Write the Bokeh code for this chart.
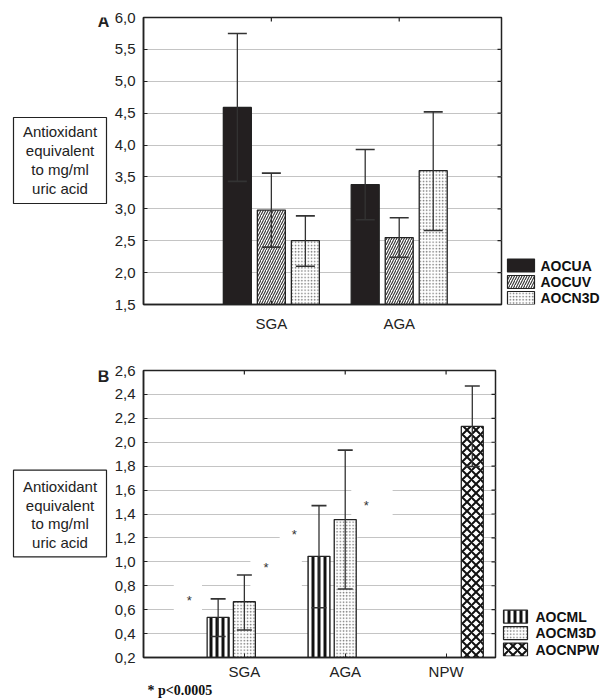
import math
from bokeh.plotting import figure
from bokeh.models import (Range1d, FixedTicker, Whisker, ColumnDataSource, TeeHead)
from bokeh.layouts import column, row
from bokeh.embed import file_html
from bokeh.resources import INLINE
from bokeh.core.properties import value

FONT = "Liberation Sans"
SERIF = "Liberation Serif"

# ---------------- Panel A data ----------------
cats_a = ["SGA", "AGA"]
aocua = [4.59, 3.38]
aocua_lo = [3.43, 2.83]
aocua_hi = [5.75, 3.93]
aocuv = [2.98, 2.55]
aocuv_lo = [2.40, 2.24]
aocuv_hi = [3.56, 2.86]
aocn3d = [2.50, 3.60]
aocn3d_lo = [2.10, 2.66]
aocn3d_hi = [2.89, 4.52]
yticks_a = [1.5, 2.0, 2.5, 3.0, 3.5, 4.0, 4.5, 5.0, 5.5, 6.0]
ylabels_a = ["1,5", "2,0", "2,5", "3,0", "3,5", "4,0", "4,5", "5,0", "5,5", "6,0"]
legend_a = ["AOCUA", "AOCUV", "AOCN3D"]

# ---------------- Panel B data ----------------
cats_b = ["SGA", "AGA", "NPW"]
aocml_cats = ["SGA", "AGA"]
aocml = [0.535, 1.046]
aocml_lo = [0.376, 0.616]
aocml_hi = [0.69, 1.47]
aocm3d_cats = ["SGA", "AGA"]
aocm3d = [0.666, 1.353]
aocm3d_lo = [0.43, 0.773]
aocm3d_hi = [0.89, 1.934]
aocnpw_cats = ["NPW"]
aocnpw = [2.132]
aocnpw_lo = [1.797]
aocnpw_hi = [2.47]
yticks_b = [0.2, 0.4, 0.6, 0.8, 1.0, 1.2, 1.4, 1.6, 1.8, 2.0, 2.2, 2.4, 2.6]
ylabels_b = ["0,2", "0,4", "0,6", "0,8", "1,0", "1,2", "1,4", "1,6", "1,8",
             "2,0", "2,2", "2,4", "2,6"]
legend_b = ["AOCML", "AOCM3D", "AOCNPW"]
# significance stars (x in axis units, y in data units)
star_x = [0.455, 1.215, 1.495, 2.21]
star_y = [0.70, 0.976, 1.253, 1.496]
footnote = "*  p<0.0005"
ylab_lines = ["Antioxidant", "equivalent", "to mg/ml", "uric acid"]

EDGE = "#222222"
H_A = 344
TOP_B = 26
BOT_B = 24
H_B = TOP_B + 287 + BOT_B

solid_style = dict(fill_color="#231f20")
diag_style = dict(fill_color="white", hatch_pattern="right_diagonal_line",
                  hatch_color="#333", hatch_scale=5, hatch_weight=1.1)
dot_style = dict(fill_color="white", hatch_pattern="dot", hatch_color="#777",
                 hatch_scale=3.2, hatch_weight=1)
vline_style = dict(fill_color="white", hatch_pattern="vertical_line",
                   hatch_color="#111", hatch_scale=6, hatch_weight=3)
cross_style = dict(fill_color="white", hatch_pattern="diagonal_cross",
                   hatch_color="#111", hatch_scale=9, hatch_weight=2)


def make_fig(x_end, y0, y1, frame_w, top_b, bottom_b, yticks, ylabels, cats,
             xstandoff):
    p = figure(frame_width=frame_w, frame_height=287,
               x_range=Range1d(0, x_end), y_range=Range1d(y0, y1),
               output_backend="svg", toolbar_location=None,
               min_border_left=32, min_border_right=4,
               min_border_top=top_b, min_border_bottom=bottom_b,
               background_fill_color="white", border_fill_color="white")
    p.outline_line_color = EDGE
    p.outline_line_width = 1.5
    cat_pos = [i + 1 for i in range(len(cats))]
    xa = p.xaxis[0]
    xa.ticker = FixedTicker(ticks=cat_pos)
    xa.major_label_overrides = {c: lab for c, lab in zip(cat_pos, cats)}
    xa.major_tick_in = 4
    xa.major_tick_out = 0
    xa.minor_tick_line_color = None
    xa.axis_line_color = EDGE
    xa.axis_line_width = 1.5
    xa.major_tick_line_color = EDGE
    xa.major_label_text_font = FONT
    xa.major_label_text_font_size = "15px"
    xa.major_label_text_color = "#222"
    xa.major_label_standoff = xstandoff
    ya = p.yaxis[0]
    ya.ticker = FixedTicker(ticks=yticks)
    ya.major_label_overrides = {t: l for t, l in zip(yticks, ylabels)}
    ya.major_tick_in = 4
    ya.major_tick_out = 0
    ya.minor_tick_line_color = None
    ya.axis_line_color = EDGE
    ya.axis_line_width = 1.5
    ya.major_tick_line_color = EDGE
    ya.major_label_text_font = FONT
    ya.major_label_text_font_size = "15px"
    ya.major_label_text_color = "#222"
    ya.major_label_standoff = 8
    # inward tick marks on the right and top frame edges
    p.ray(x=[x_end] * len(yticks), y=yticks, length=4, length_units="screen",
          angle=math.pi, line_color=EDGE, line_width=1.2)
    p.ray(x=cat_pos, y=[y1] * len(cat_pos), length=4, length_units="screen",
          angle=-math.pi / 2, line_color=EDGE, line_width=1.2)
    p.xgrid.visible = False
    p.ygrid.ticker = FixedTicker(ticks=yticks)
    p.ygrid.grid_line_color = "#c4c4c4"
    p.ygrid.grid_line_width = 1
    return p


def bars(p, cats, series_cats, vals, lo, hi, offset, width, bottom, cap, style):
    xs = [cats.index(c) + 1 + offset for c in series_cats]
    p.vbar(x=xs, top=vals, bottom=bottom, width=width,
           line_color=EDGE, line_width=1.3, **style)
    src = ColumnDataSource(dict(base=xs, lower=lo, upper=hi))
    w = Whisker(source=src, base="base", lower="lower", upper="upper",
                line_color="#333", line_width=1.3, level="overlay",
                upper_head=TeeHead(size=cap, line_color="#333", line_width=1.6),
                lower_head=TeeHead(size=cap, line_color="#333", line_width=1.6))
    p.add_layout(w)


def blank(width, height, xr, yr):
    b = figure(width=width, height=height, x_range=Range1d(*xr),
               y_range=Range1d(*yr), output_backend="svg",
               toolbar_location=None, x_axis_type=None, y_axis_type=None,
               min_border_left=0, min_border_right=0,
               min_border_top=0, min_border_bottom=0,
               background_fill_color="white", border_fill_color="white")
    b.outline_line_color = None
    b.grid.visible = False
    return b


def side_box(height, frame_top, frame_bottom, box_top, box_bottom, line_y,
             letter, letter_y):
    # y range maps onto page pixel rows (frame is aligned with the main plot)
    b = blank(111, height, (0, 111), (frame_bottom, frame_top))
    b.quad(left=[13], right=[106], top=[box_top], bottom=[box_bottom],
           fill_color="white", line_color=EDGE, line_width=1.2)
    b.text(x=[59.5] * len(ylab_lines), y=line_y, text=ylab_lines,
           text_font=value(FONT), text_font_size="15px", text_align="center",
           text_baseline="middle", text_color="#222")
    b.text(x=[103], y=[letter_y], text=[letter], text_font=value(FONT),
           text_font_size="16px", text_font_style="bold", text_align="center",
           text_baseline="middle", text_color="#222")
    return b


def legend_fig(height, x0, frame_top, frame_bottom, labels, styles, sw_left,
               sw_w, sw_h, row_y, text_x):
    b = blank(100, height, (x0, x0 + 100), (frame_bottom, frame_top))
    for lab, st, yc in zip(labels, styles, row_y):
        b.quad(left=[sw_left], right=[sw_left + sw_w], top=[yc - sw_h / 2],
               bottom=[yc + sw_h / 2], line_color=EDGE, line_width=1.2, **st)
    b.text(x=[text_x] * len(labels), y=row_y, text=labels, text_font=value(FONT),
           text_font_size="14px", text_font_style="bold", text_align="left",
           text_baseline="middle", text_color="#111")
    return b


# ================= Panel A =================
pA = make_fig(2.8, 1.5, 6.0, 358, 17, H_A - 17 - 287, yticks_a, ylabels_a,
              cats_a, 10)
W_A = 0.219
bars(pA, cats_a, cats_a, aocua, aocua_lo, aocua_hi, -0.266, W_A, 1.5, 19, solid_style)
bars(pA, cats_a, cats_a, aocuv, aocuv_lo, aocuv_hi, 0.0, W_A, 1.5, 19, diag_style)
bars(pA, cats_a, cats_a, aocn3d, aocn3d_lo, aocn3d_hi, 0.266, W_A, 1.5, 19, dot_style)
boxA = side_box(H_A, 17, 304, 117, 203, [131, 150, 169, 188], "A", 21)
legA = legend_fig(H_A, 505, 17, 304, legend_a,
                  [solid_style, diag_style, dot_style],
                  507, 27, 13, [265, 281.5, 297.5], 540)

# ================= Panel B =================
pB = make_fig(3.49, 0.2, 2.6, 352, TOP_B, BOT_B, yticks_b, ylabels_b, cats_b, 5)
W_B = 0.218
# white backgrounds of the star annotations (interrupt grid lines)
pB.quad(left=[0.30, 1.06, 1.35, 2.06], right=[0.58, 1.57, 2.12, 2.47],
        bottom=[0.57, 0.70, 1.12, 1.32], top=[0.88, 1.10, 1.30, 1.70],
        fill_color="white", line_color=None)
bars(pB, cats_b, aocml_cats, aocml, aocml_lo, aocml_hi, -0.26, W_B, 0.2, 15, vline_style)
bars(pB, cats_b, aocm3d_cats, aocm3d, aocm3d_lo, aocm3d_hi, 0.0, W_B, 0.2, 15, dot_style)
bars(pB, cats_b, aocnpw_cats, aocnpw, aocnpw_lo, aocnpw_hi, 0.26, W_B, 0.2, 15, cross_style)
pB.text(x=star_x, y=star_y, text=["*"] * len(star_x), text_font=value(FONT),
        text_font_size="13px", text_align="center", text_baseline="middle",
        y_offset=3, text_color="#333")
boxB = side_box(H_B, 370, 657, 470, 557, [486, 505, 524, 543], "B", 376)
legB = legend_fig(H_B, 499, 370, 657, legend_b,
                  [vline_style, dot_style, cross_style],
                  503, 24, 13, [617, 633.5, 650], 535)

# ================= footnote =================
foot_h = 698 - H_A - H_B
foot = blank(600, foot_h, (0, 600), (foot_h, 0))
foot.text(x=[147], y=[foot_h / 2 - 1], text=[footnote], text_font=value(SERIF),
          text_font_size="14px", text_font_style="bold", text_align="left",
          text_baseline="middle", text_color="#111")

layout = column(row(boxA, pA, legA, spacing=0), row(boxB, pB, legB, spacing=0),
                foot, spacing=0)
open("out.html", "w").write(file_html(layout, INLINE))
